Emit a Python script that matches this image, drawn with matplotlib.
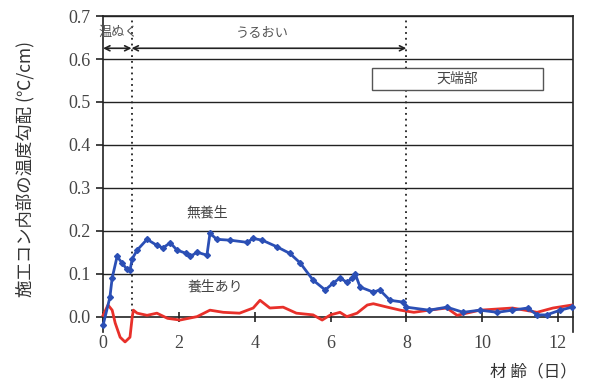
import matplotlib
matplotlib.use("Agg")
import matplotlib.pyplot as plt
from matplotlib.patches import Rectangle

plt.rcParams['font.family'] = ['Noto Sans CJK JP', 'DejaVu Sans']

# 無養生 (no curing) - temperature gradient vs age [day]
age_none = [0.0, 0.18, 0.24, 0.37, 0.5, 0.63, 0.71, 0.77, 0.9, 1.16, 1.42, 1.58, 1.77, 1.95,
            2.2, 2.3, 2.48, 2.74, 2.82, 3.0, 3.35, 3.8, 3.96, 4.2, 4.6, 4.93, 5.2, 5.54,
            5.86, 6.07, 6.25, 6.43, 6.57, 6.65, 6.78, 7.13, 7.3, 7.57, 7.9, 8.0, 8.6,
            9.07, 9.5, 9.94, 10.4, 10.8, 11.2, 11.45, 11.7, 12.06, 12.37]
grad_none = [-0.02, 0.045, 0.09, 0.14, 0.125, 0.11, 0.108, 0.135, 0.155, 0.18, 0.166, 0.16,
             0.172, 0.155, 0.147, 0.14, 0.15, 0.143, 0.194, 0.18, 0.178, 0.173, 0.182, 0.178,
             0.162, 0.147, 0.125, 0.085, 0.062, 0.078, 0.09, 0.08, 0.089, 0.10, 0.069, 0.057,
             0.062, 0.038, 0.034, 0.022, 0.015, 0.022, 0.01, 0.015, 0.01, 0.015, 0.02, 0.004,
             0.004, 0.015, 0.022]

# 養生あり (with curing)
age_cure = [0.0, 0.13, 0.24, 0.32, 0.45, 0.58, 0.71, 0.77, 0.8, 0.9, 1.16, 1.42, 1.7, 2.03,
            2.48, 2.82, 3.17, 3.6, 3.96, 4.14, 4.4, 4.75, 5.1, 5.54, 5.78, 6.0, 6.25, 6.43,
            6.7, 6.97, 7.13, 7.5, 7.84, 8.2, 8.6, 9.07, 9.34, 9.94, 10.8, 11.45, 11.87, 12.37]
grad_cure = [0.003, 0.027, 0.015, -0.015, -0.048, -0.059, -0.048, 0.0, 0.015, 0.008, 0.003,
             0.008, -0.004, -0.008, 0.0, 0.015, 0.01, 0.008, 0.02, 0.038, 0.02, 0.022, 0.008,
             0.004, -0.008, 0.004, 0.01, 0.0, 0.008, 0.027, 0.03, 0.022, 0.015, 0.01, 0.015,
             0.02, 0.003, 0.015, 0.02, 0.01, 0.02, 0.027]

period_ends = [0.75, 8.0]
yticks = [0.0, 0.1, 0.2, 0.3, 0.4, 0.5, 0.6, 0.7]
xticks = [0, 2, 4, 6, 8, 10, 12]

fig = plt.figure(figsize=(5.89, 3.92), dpi=100)
ax = fig.add_axes([0.175, 0.154, 0.798, 0.805])

ax.set_xlim(0, 12.4)
ax.set_ylim(-0.035, 0.7)

# horizontal grid
for yv in yticks[1:]:
    ax.axhline(yv, color='#222222', lw=1.0, zorder=1)

# period boundaries
for xv in period_ends:
    ax.plot([xv, xv], [0, 0.7], color='#222222', lw=1.3, ls=(0, (1, 2.2)), zorder=2)

ax.plot(age_cure, grad_cure, color='#e8302a', lw=2.0, zorder=3, clip_on=False)
ax.plot(age_none, grad_none, color='#2b4fb5', lw=2.0, marker='D', ms=3, zorder=4,
        clip_on=False)

# curing period arrows
arr = dict(arrowstyle='<->', color='#222222', lw=1.2, shrinkA=0, shrinkB=0,
           mutation_scale=9)
ax.annotate('', xy=(0, 0.625), xytext=(period_ends[0], 0.625), arrowprops=arr)
ax.annotate('', xy=(period_ends[0], 0.625), xytext=(period_ends[1], 0.625), arrowprops=arr)
ax.text(0.4, 0.662, '温ぬく', ha='center', va='center', fontsize=9.5, color='#555555')
ax.text(4.2, 0.662, 'うるおい', ha='center', va='center', fontsize=9.5, color='#555555')

ax.add_patch(Rectangle((7.1, 0.527), 4.5, 0.053, fc='white', ec='#555555', lw=1.0, zorder=5))
ax.text(9.35, 0.554, '天端部', ha='center', va='center', fontsize=10, color='#444444', zorder=6)

ax.text(2.75, 0.243, '無養生', ha='center', va='center', fontsize=10, color='#444444')
ax.text(2.95, 0.07, '養生あり', ha='center', va='center', fontsize=10, color='#444444')

for s in ['left', 'right', 'top']:
    ax.spines[s].set_color('#222222')
    ax.spines[s].set_linewidth(1.2)
ax.spines['bottom'].set_position(('data', 0))
ax.spines['bottom'].set_color('#222222')
ax.spines['bottom'].set_linewidth(1.2)

ax.set_xticks(xticks)
ax.set_yticks(yticks)
ax.set_yticklabels([f'{v:.1f}' for v in yticks])
ax.tick_params(axis='x', direction='inout', length=7, width=1.2, pad=10, colors='#222222',
               labelcolor='#444444')
ax.tick_params(axis='y', direction='out', length=5, width=1.2, pad=4, colors='#222222',
               labelcolor='#444444')
for lab in ax.get_xticklabels() + ax.get_yticklabels():
    lab.set_family('Liberation Serif')
    lab.set_fontsize(13)

fig.text(0.043, 0.57, '施工コン内部の温度勾配 (℃/cm)', rotation=90, ha='center', va='center',
         fontsize=12.5, color='#333333')
fig.text(0.905, 0.05, '材 齢（日）', ha='center', va='center', fontsize=12, color='#333333')

fig.savefig('out.png', dpi=100)
